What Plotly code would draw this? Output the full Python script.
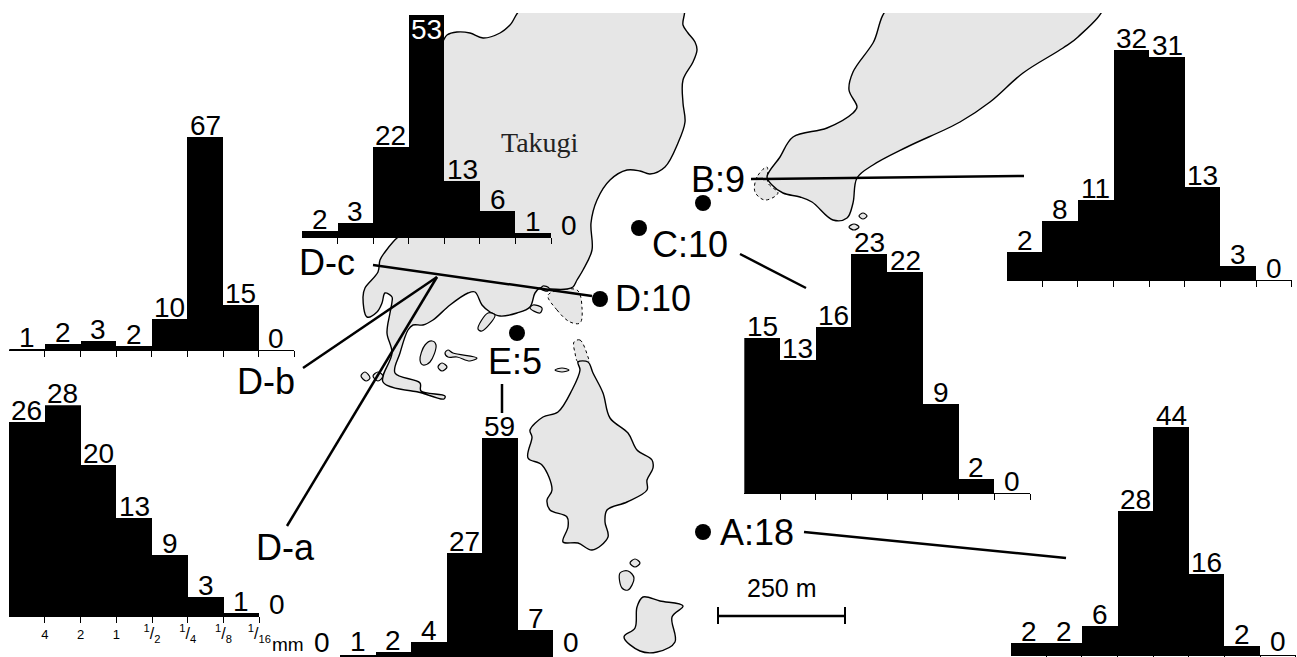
import plotly.graph_objects as go

W, H = 1297, 657
INK = "#000000"
LAND = "#e6e6e6"

# ---- histogram data: bar heights, printed labels ----
dc_values = [1.6, 3.3, 21.6, 53, 13.4, 6.2, 1.0, 0]
dc_labels = ["2", "3", "22", "53", "13", "6", "1", "0"]
db_values = [0.2, 1.8, 2.7, 1.2, 9.7, 67, 14, 0]
db_labels = ["1", "2", "3", "2", "10", "67", "15", "0"]
da_values = [25.7, 28, 20, 13, 8.1, 2.5, 0.4, 0]
da_labels = ["26", "28", "20", "13", "9", "3", "1", "0"]
e_values = [0, 0.3, 1.2, 3.8, 27.8, 59, 6.9, 0]
e_labels = ["0", "1", "2", "4", "27", "59", "7", "0"]
c_values = [14.9, 12.8, 16, 23, 21.3, 8.6, 1.4, 0]
c_labels = ["15", "13", "16", "23", "22", "9", "2", "0"]
b_values = [3.9, 8.2, 11.1, 32, 31, 12.9, 2.0, 0]
b_labels = ["2", "8", "11", "32", "31", "13", "3", "0"]
a_values = [2.25, 2.25, 5.6, 27.8, 44, 15.7, 1.7, 0]
a_labels = ["2", "2", "6", "28", "44", "16", "2", "0"]

size_ticks = ["<span style='font-size:13px'>4</span>", "<span style='font-size:13px'>2</span>",
              "<span style='font-size:13px'>1</span>", "<sup>1</sup>/<sub>2</sub>", "<sup>1</sup>/<sub>4</sub>",
              "<sup>1</sup>/<sub>8</sub>", "<sup>1</sup>/<sub>16</sub>"]

# ---- map outlines ----
takugi = [(405, 232), (425, 140), (430, 60), (443, 41), (447, 35), (457, 32), (470, 33), (483, 38),
          (500, 33), (510, 25), (526, 5), (683, 5), (683, 25), (688, 33), (695, 42), (697, 50),
          (693, 62), (683, 80), (683, 103), (685, 122), (678, 143), (665, 167), (650, 174),
          (640, 171), (627, 170), (610, 180), (597, 200), (591, 223), (592, 250), (583, 270),
          (577, 280), (573, 287), (567, 289), (550, 289), (540, 288), (535, 293), (530, 307),
          (517, 313), (500, 316), (490, 312), (482, 305), (475, 292), (468, 293), (450, 305),
          (433, 320), (423, 325), (413, 325), (408, 330), (400, 353), (395, 373), (420, 383),
          (421, 391), (445, 396), (444, 399), (422, 393), (418, 392), (383, 382), (392, 353),
          (387, 333), (390, 313), (392, 302), (392, 297), (385, 293), (382, 303), (377, 312),
          (367, 317), (363, 297), (365, 288), (378, 272), (380, 260), (385, 252), (393, 242),
          (397, 238), (405, 232)]
east_island = [(892, 5), (873, 43), (853, 72), (849, 90), (857, 107), (853, 113), (827, 128),
               (793, 137), (780, 157), (767, 177), (772, 185), (783, 193), (800, 197), (812, 202),
               (833, 220), (847, 218), (853, 203), (857, 178), (873, 165), (907, 147), (960, 122),
               (990, 102), (1023, 73), (1063, 48), (1078, 37), (1103, 5), (892, 5)]
south_island = [(578, 362), (588, 362), (593, 373), (603, 393), (610, 418), (628, 433), (637, 450),
                (652, 460), (653, 468), (647, 480), (647, 490), (627, 502), (607, 510), (605, 522),
                (608, 537), (592, 550), (578, 543), (563, 542), (568, 527), (567, 517), (550, 510),
                (547, 500), (552, 490), (542, 465), (528, 458), (532, 437), (530, 430), (543, 417),
                (558, 412), (572, 390), (580, 370), (578, 362)]
far_island = [(643, 597), (660, 601), (683, 606), (672, 617), (675, 642), (657, 652), (640, 651),
              (624, 637), (635, 628), (637, 607), (643, 597)]
islets = [
    [(432, 341), (436, 345), (430, 362), (423, 365), (420, 360), (425, 345), (432, 341)],
    [(438, 367), (442, 363), (447, 367), (442, 371), (438, 367)],
    [(445, 353), (448, 350), (453, 353), (477, 358), (470, 361), (457, 357), (448, 357), (445, 353)],
    [(361, 376), (365, 372), (370, 378), (366, 381), (361, 376)],
    [(373, 376), (378, 372), (383, 376), (378, 381), (373, 376)],
    [(555, 370), (562, 368), (569, 370), (562, 372), (555, 370)],
    [(620, 573), (628, 571), (634, 578), (628, 590), (622, 588), (620, 573)],
    [(630, 563), (635, 559), (640, 563), (635, 567), (630, 563)],
    [(859, 216), (863, 213), (867, 216), (863, 219), (859, 216)],
    [(849, 227), (854, 224), (859, 227), (854, 230), (849, 227)],
]
piers = [
    [(488, 313), (495, 315), (482, 331), (478, 329), (488, 313)],
    [(530, 308), (533, 305), (542, 308), (540, 313), (530, 308)],
    [(541, 289), (543, 286), (549, 288), (548, 291), (541, 289)],
]
shoals = [
    [(548, 295), (557, 310), (570, 322), (580, 323), (582, 308), (577, 290), (548, 295)],
    [(574, 342), (580, 340), (588, 357), (589, 362), (578, 362), (575, 353), (574, 342)],
    [(767, 167), (757, 177), (755, 192), (765, 200), (778, 193), (768, 183), (767, 167)],
]
stations_x = [703, 639, 600, 517, 703]
stations_y = [203, 228, 299, 333, 532]
leaders = [
    [(373, 265), (592, 296)],
    [(303, 368), (437, 277)],
    [(287, 526), (437, 277)],
    [(751, 179), (1024, 176)],
    [(740, 254), (806, 288)],
    [(502, 384), (502, 413)],
    [(804, 532), (1066, 558)],
]
scale_bar = [(718, 616), (845, 616)]
scale_caps = [[(718, 607), (718, 624)], [(845, 607), (845, 624)]]
map_labels = [("D-c", 327, 262), ("D-b", 266, 381), ("D-a", 285, 547), ("B:9", 718, 179),
              ("C:10", 690, 244), ("D:10", 653, 298), ("E:5", 515, 361), ("A:18", 757, 532)]

fig = go.Figure()


def xy(points):
    return [p[0] for p in points], [p[1] for p in points]


def land(points, dash="solid", width=1.4, color=LAND):
    x, y = xy(points)
    fig.add_trace(go.Scatter(x=x, y=y, mode="lines", fill="toself", fillcolor=color,
                             line=dict(color=INK, width=width, dash=dash, shape="spline", smoothing=1.0),
                             hoverinfo="skip", xaxis="x", yaxis="y"))


for s in shoals:
    land(s, dash="3px,3px", width=1)
for outline in (takugi, east_island, south_island, far_island):
    land(outline)
for i in islets:
    land(i, width=1.2)
for p in piers:
    land(p, width=1.2)
for seg in leaders + [scale_bar]:
    x, y = xy(seg)
    fig.add_trace(go.Scatter(x=x, y=y, mode="lines", line=dict(color=INK, width=2.5),
                             hoverinfo="skip", xaxis="x", yaxis="y"))
for seg in scale_caps:
    x, y = xy(seg)
    fig.add_trace(go.Scatter(x=x, y=y, mode="lines", line=dict(color=INK, width=2),
                             hoverinfo="skip", xaxis="x", yaxis="y"))
fig.add_trace(go.Scatter(x=stations_x, y=stations_y, mode="markers",
                         marker=dict(color=INK, size=16), hoverinfo="skip", xaxis="x", yaxis="y"))

layout = dict(
    width=W, height=H, margin=dict(l=0, r=0, t=0, b=0, pad=0, autoexpand=False),
    paper_bgcolor="white", plot_bgcolor="rgba(0,0,0,0)",
    showlegend=False, hovermode=False, bargap=0,
    xaxis=dict(domain=[0, 1], range=[0, W], visible=False, fixedrange=True),
    yaxis=dict(domain=[0, (H - 13) / H], range=[H, 13], visible=False, fixedrange=True),
)
notes = []
for text, x, y in map_labels:
    notes.append(dict(x=x, y=y, xref="x", yref="y", text=text, showarrow=False, borderpad=0,
                      font=dict(family="Liberation Sans", size=36, color=INK)))
notes.append(dict(x=540, y=142, xref="x", yref="y", text="Takugi", showarrow=False,
                  font=dict(family="Liberation Serif", size=28, color="#222222")))
notes.append(dict(x=781, y=588, xref="x", yref="y", text="250 m", showarrow=False,
                  font=dict(family="Liberation Sans", size=25, color=INK)))
notes.append(dict(x=288, y=644, xref="x", yref="y", text="mm", showarrow=False, borderpad=0,
                  font=dict(family="Liberation Sans", size=19, color=INK)))


def histogram(idx, values, labels, left, right, base, px_per_unit, lo=0, hi=7, ticks=None):
    xn, yn = f"x{idx}", f"y{idx}"
    centres = [i + 0.5 for i in range(len(values))]
    fig.add_trace(go.Bar(x=centres, y=values, width=1, marker=dict(color=INK, line=dict(width=0)),
                         hoverinfo="skip", xaxis=xn, yaxis=yn))
    top_val = max(values)
    top_px = base - top_val * px_per_unit
    edges = list(range(lo + 1, hi + 1))
    bin_px = (right - left) / (hi - lo)
    layout[f"xaxis{idx}"] = dict(
        domain=[left / W, right / W], range=[lo, hi], anchor=yn, showgrid=False, zeroline=False,
        showline=True, linecolor=INK, linewidth=1, ticks="outside", ticklen=6, tickwidth=1, tickcolor=INK,
        tickvals=edges, ticktext=ticks if ticks else [""] * len(edges), showticklabels=bool(ticks),
        tickfont=dict(family="Liberation Sans", size=16, color=INK), tickangle=0, fixedrange=True,
        automargin=False, ticklabelstandoff=-3)
    layout[f"yaxis{idx}"] = dict(domain=[(H - base) / H, (H - top_px) / H], range=[0, top_val],
                                 anchor=xn, visible=False, fixedrange=True)
    for c, v, t in zip(centres, values, labels):
        inside = t == "53"
        if lo < c < hi:
            ax, ay, rx, ry = c, v, xn, yn
        else:
            # labels beside the axis are placed on the full-page map axes
            ax, ay, rx, ry = left + (c - lo) * bin_px, base - v * px_per_unit, "x", "y"
        near_edge = base - v * px_per_unit > 654
        shift = 2 if inside else (-3 if near_edge else -5)
        notes.append(dict(x=ax, y=ay, xref=rx, yref=ry, text=t, showarrow=False, borderpad=0,
                          yanchor="top" if inside else "bottom", yshift=shift,
                          font=dict(family="Liberation Sans", size=28, color="white" if inside else INK)))


histogram(2, dc_values, dc_labels, 302, 551, 237.3, 4.2)
histogram(3, db_values, db_labels, 9.3, 294.3, 350, 3.18, hi=8)
histogram(4, da_values, da_labels, 9, 259.3, 616, 7.53, ticks=size_ticks)
histogram(5, e_values, e_labels, 340, 553.3, 656, 3.7, lo=1, hi=7)
histogram(6, c_values, c_labels, 744.3, 1030, 493.3, 10.4, hi=8)
histogram(7, b_values, b_labels, 1006.7, 1291.7, 280, 7.2, hi=8)
histogram(8, a_values, a_labels, 1010.7, 1295.7, 655, 5.19, hi=8)

layout["annotations"] = notes
fig.update_layout(**layout)
post = ("var s=document.createElement('style');"
        "s.textContent='html,body{margin:0;padding:0;width:1297px;height:657px;overflow:hidden}"
        "body>div{display:block;height:657px;overflow:hidden;line-height:0}"
        ".plotly-graph-div{display:block}';"
        "document.head.appendChild(s);")
fig.write_html("out.html", post_script=post, config=dict(displayModeBar=False, staticPlot=True))
